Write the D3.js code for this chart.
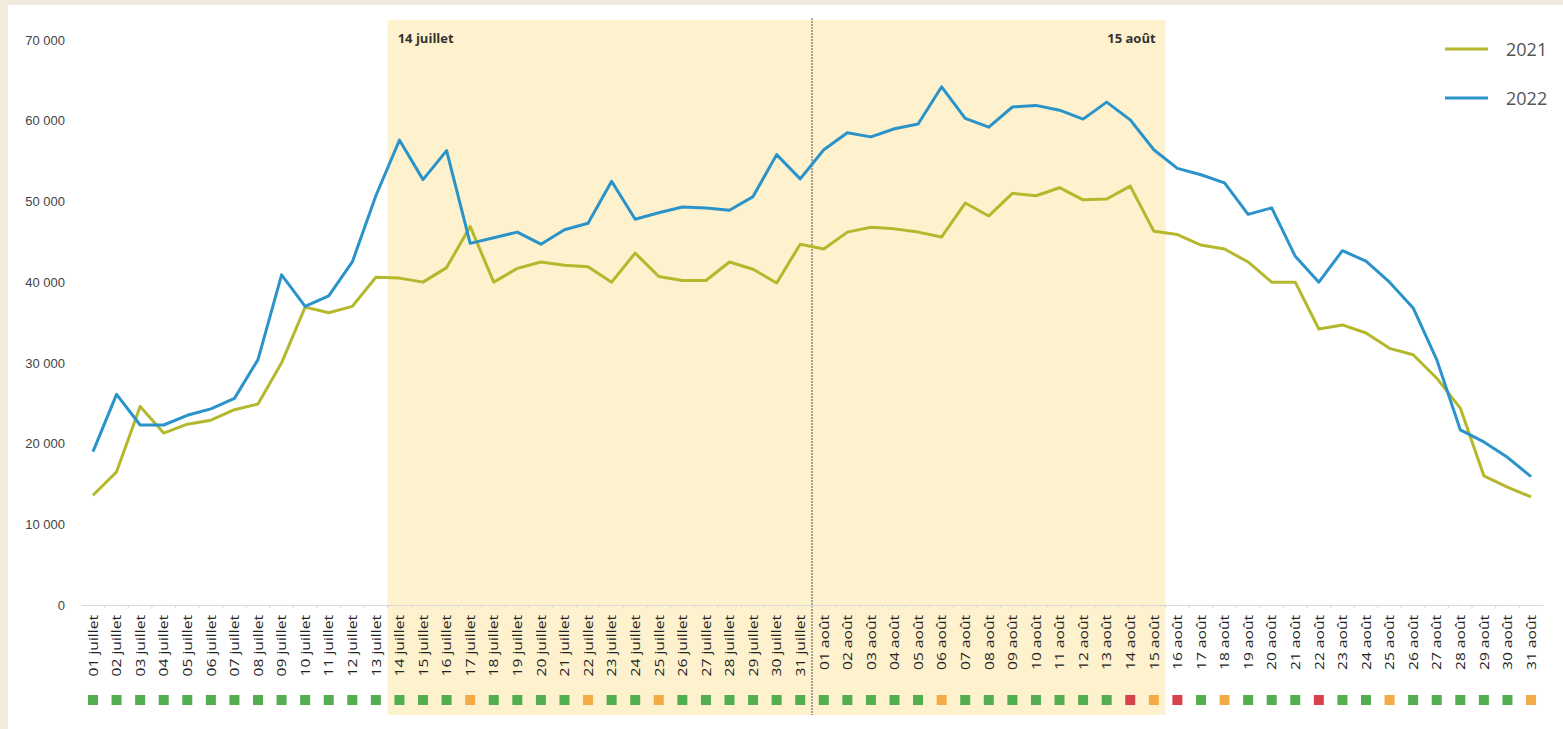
<!DOCTYPE html>
<html>
<head>
<meta charset="utf-8">
<script src="https://cdn.jsdelivr.net/npm/d3@7"></script>
<style>
    html, body { margin: 0; padding: 0; background: #f2ebdd; }
    #chart { position: absolute; left: 0; top: 0; }
</style>
</head>
<body>
<div id="chart"></div>
<script>
// days: 01 juillet .. 31 août
var days = [];
d3.range(1, 32).forEach(function(d){ days.push(d3.format("02")(d) + " juillet"); });
d3.range(1, 32).forEach(function(d){ days.push(d3.format("02")(d) + " août"); });

var series_2021 = [
    13600, 16500, 24600, 21300, 22400, 22900, 24200, 24900, 30000, 36900,
    36200, 37000, 40600, 40500, 40000, 41800, 46900, 40000, 41700, 42500,
    42100, 41900, 40000, 43600, 40700, 40200, 40200, 42500, 41600, 39900,
    44700,
    44100, 46200, 46800, 46600, 46200, 45600, 49800, 48200, 51000, 50700,
    51700, 50200, 50300, 51900, 46300, 45900, 44600, 44100, 42500, 40000,
    40000, 34200, 34700, 33700, 31800, 31000, 28100, 24400, 16000, 14600,
    13400
];

var series_2022 = [
    19000, 26100, 22300, 22300, 23500, 24300, 25600, 30400, 40900, 37000,
    38300, 42500, 50700, 57600, 52700, 56300, 44800, 45500, 46200, 44700,
    46500, 47300, 52500, 47800, 48600, 49300, 49200, 48900, 50600, 55800,
    52800,
    56400, 58500, 58000, 59000, 59600, 64200, 60300, 59200, 61700, 61900,
    61300, 60200, 62300, 60100, 56400, 54100, 53300, 52300, 48400, 49200,
    43200, 40000, 43900, 42600, 40000, 36800, 30400, 21700, 20200, 18300,
    15900
];

// daily indicator: g = vert, o = orange, r = rouge
var day_status = [
    'g','g','g','g','g','g','g','g','g','g','g','g','g','g','g','g','o','g','g','g',
    'g','o','g','g','o','g','g','g','g','g','g',
    'g','g','g','g','g','o','g','g','g','g','g','g','g','r','o','r','g','o','g','g',
    'g','r','g','g','o','g','g','g','g','g','o'
];

var y_ticks = [0, 10000, 20000, 30000, 40000, 50000, 60000, 70000];

var highlight_from = "14 juillet";
var highlight_to = "15 août";
var month_split = "01 août";

var series_list = [
    {label: '2021', values: series_2021, color: '#b4b82c'},
    {label: '2022', values: series_2022, color: '#2a93c9'}
];

var status_color = {g: '#52ae4e', o: '#f4aa45', r: '#d8434a'};

var svg_size = {width: 1563, height: 729};

var svg = d3.select('#chart')
    .append('svg')
    .attr('width', svg_size.width)
    .attr('height', svg_size.height)
    .style('font-family', 'Roboto, "Open Sans", sans-serif');

// white panel
svg.append('rect')
    .attr('x', 8)
    .attr('y', 5)
    .attr('width', svg_size.width - 8)
    .attr('height', svg_size.height - 5)
    .style('fill', '#ffffff');

var x_scale = d3.scaleBand()
    .domain(days)
    .range([81.2, 1542.8])
    .padding(0);

function xc(d){
    return x_scale(d) + x_scale.bandwidth() / 2;
}

var y_scale = d3.scaleLinear()
    .domain([0, 70000])
    .range([605, 40]);

// highlighted period
svg.append('rect')
    .attr('x', x_scale(highlight_from))
    .attr('y', 20)
    .attr('width', x_scale(highlight_to) + x_scale.bandwidth() - x_scale(highlight_from))
    .attr('height', 695)
    .style('fill', '#fef1cd');

// month split
svg.append('line')
    .attr('x1', x_scale(month_split))
    .attr('x2', x_scale(month_split))
    .attr('y1', 18)
    .attr('y2', 715)
    .style('stroke', '#555')
    .style('stroke-width', 1)
    .style('stroke-dasharray', '2,1');

svg.append('text')
    .attr('x', x_scale(highlight_from) + 10)
    .attr('y', 38)
    .attr('dominant-baseline', 'central')
    .style('font-family', '"Open Sans", sans-serif')
    .style('font-weight', 'bold')
    .style('font-size', '13px')
    .style('fill', '#333')
    .text(highlight_from);

svg.append('text')
    .attr('x', x_scale(highlight_to) + x_scale.bandwidth() - 10)
    .attr('y', 38)
    .attr('text-anchor', 'end')
    .attr('dominant-baseline', 'central')
    .style('font-family', '"Open Sans", sans-serif')
    .style('font-weight', 'bold')
    .style('font-size', '13px')
    .style('fill', '#333')
    .text(highlight_to);

// y axis
var y_axis = d3.axisLeft(y_scale)
    .tickValues(y_ticks)
    .tickSize(0)
    .tickPadding(0)
    .tickFormat(function(d){ return d3.format(",")(d).replace(/,/g, ' '); });

var y_axis_group = svg.append('g')
    .attr('transform', 'translate(65,0)')
    .call(y_axis);
y_axis_group.select('.domain').remove();
y_axis_group.selectAll('text')
    .style('font-size', '13px')
    .style('fill', '#444');

// x axis
var x_axis = d3.axisBottom(x_scale)
    .tickSize(0)
    .tickSizeOuter(0)
    .tickPadding(0);

var x_axis_group = svg.append('g')
    .attr('transform', 'translate(0,605)')
    .call(x_axis);
x_axis_group.select('.domain')
    .style('stroke', '#d9d9d9');
x_axis_group.selectAll('text')
    .attr('text-anchor', 'end')
    .attr('dominant-baseline', 'central')
    .attr('transform', 'translate(0,10) rotate(-90) scale(1.3,1)')
    .attr('y', 0)
    .attr('dy', null)
    .style('font-family', '"Open Sans", sans-serif')
    .style('font-size', '12px')
    .style('fill', '#222');

// boundary ticks
x_axis_group.selectAll('.bound')
    .data(days.slice(1))
    .enter()
    .append('line')
    .classed('bound', true)
    .attr('x1', function(d){ return x_scale(d); })
    .attr('x2', function(d){ return x_scale(d); })
    .attr('y1', 0)
    .attr('y2', 3)
    .style('stroke', '#d9d9d9');

// lines
var line = d3.line()
    .x(function(d, i){ return xc(days[i]); })
    .y(function(d){ return y_scale(d); });

svg.selectAll('.series')
    .data(series_list)
    .enter()
    .append('path')
    .classed('series', true)
    .attr('d', function(d){ return line(d.values); })
    .style('fill', 'none')
    .style('stroke', function(d){ return d.color; })
    .style('stroke-width', 3)
    .style('stroke-linejoin', 'round');

// daily indicator
svg.selectAll('.day-status')
    .data(day_status)
    .enter()
    .append('rect')
    .classed('day-status', true)
    .attr('x', function(d, i){ return xc(days[i]) - 5; })
    .attr('y', 695)
    .attr('width', 10)
    .attr('height', 10)
    .style('fill', function(d){ return status_color[d]; });

// legend
var legend_enter = svg.selectAll('.legend-item')
    .data(series_list)
    .enter()
    .append('g')
    .classed('legend-item', true)
    .attr('transform', function(d, i){ return 'translate(1445,' + (49 + 49 * i) + ')'; });

legend_enter.append('line')
    .attr('x1', 0)
    .attr('x2', 43)
    .attr('y1', 0)
    .attr('y2', 0)
    .style('stroke', function(d){ return d.color; })
    .style('stroke-width', 3);

legend_enter.append('text')
    .attr('x', 61)
    .attr('y', 0)
    .attr('dominant-baseline', 'central')
    .style('font-family', '"Open Sans", sans-serif')
    .style('font-size', '18px')
    .style('fill', '#555')
    .text(function(d){ return d.label; });
</script>
</body>
</html>
